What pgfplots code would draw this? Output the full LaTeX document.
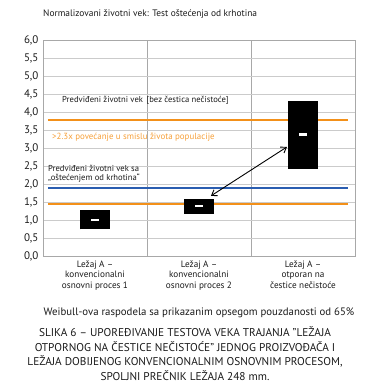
\documentclass[border=0pt]{standalone}
\usepackage{fontspec}
\setmainfont{PT Sans}
\usepackage{pgfplots}
\pgfplotsset{compat=1.18}
\usetikzlibrary{arrows.meta}
\definecolor{myorange}{HTML}{F39019}
\definecolor{txtorange}{HTML}{F6A03A}
\definecolor{myblue}{HTML}{2A5DB0}
\definecolor{gridgray}{HTML}{CBCBCB}
\definecolor{axgray}{HTML}{A8A8A8}
\definecolor{txt}{HTML}{1A1A1A}
\begin{document}
\begin{tikzpicture}
\useasboundingbox (0pt,0pt) rectangle (367pt,388pt);
\begin{axis}[at={(43pt,132pt)}, anchor=south west, scale only axis,
  width=312pt, height=216pt,
  xmin=-0.5, xmax=2.5, ymin=0, ymax=6,
  ytick={0,0.5,1,1.5,2,2.5,3,3.5,4,4.5,5,5.5,6},
  xtick={0,1,2},
  xticklabels={{Ležaj A –\\konvencionalni\\osnovni proces 1},{Ležaj A –\\konvencionalni\\osnovni proces 2},{Ležaj A –\\otporan na\\čestice nečistoće}},
  xticklabel style={align=center, font=\fontsize{9.2}{10.5}\selectfont, text=txt, yshift=-1pt},
  yticklabel style={font=\fontsize{11}{12}\selectfont, text=txt, xshift=-1pt},
  minor xtick={0.5,1.5},
  xminorgrids=true, ymajorgrids=true,
  major tick length=0pt, minor tick length=0pt,
  axis line style={axgray, line width=0.8pt},
  grid style={gridgray, line width=0.8pt},
  minor grid style={axgray, line width=0.8pt},
  clip=false,
  /pgf/number format/.cd, fixed, fixed zerofill, precision=1, use comma, assume math mode=true,
]
% reference lines
\addplot[myorange, line width=1.4pt] coordinates {(-0.452,3.78) (2.433,3.78)};
\addplot[myorange, line width=1.4pt] coordinates {(-0.452,1.44) (2.433,1.44)};
\addplot[myblue, line width=1.4pt] coordinates {(-0.452,1.89) (2.433,1.89)};
% boxes (65% confidence range)
\addplot[black, line width=30pt] coordinates {(0,0.74) (0,1.27)};
\addplot[black, line width=30pt] coordinates {(1,1.18) (1,1.59)};
\addplot[black, line width=30pt] coordinates {(2,2.42) (2,4.30)};
% medians
\addplot[white, line width=2.5pt] coordinates {(-0.038,1.00) (0.038,1.00)};
\addplot[white, line width=2.5pt] coordinates {(0.962,1.39) (1.038,1.39)};
\addplot[white, line width=2.5pt] coordinates {(1.962,3.37) (2.038,3.37)};
% arrow
\addplot[black, line width=0.9pt, {Straight Barb[length=5pt,width=7pt]}-{Straight Barb[length=5pt,width=7pt]}] coordinates {(1.115,1.67) (1.846,3.03)};
% annotations
\node[anchor=west, font=\fontsize{8.6}{9}\selectfont, text=txt, inner sep=0pt] at (axis cs:-0.317,4.33) {Predviđeni životni vek \,[bez čestica nečistoće]};
\node[anchor=west, font=\fontsize{8.9}{9}\selectfont, text=txtorange, inner sep=0pt] at (axis cs:-0.413,3.30) {>2.3x povećanje u smislu života populacije};
\node[anchor=west, font=\fontsize{8.6}{8.5}\selectfont, text=txt, inner sep=0pt, align=left] at (axis cs:-0.452,2.29) {Predviđeni životni vek sa\\„oštećenjem od krhotina“};
\end{axis}
\node[anchor=west, font=\fontsize{9.4}{10}\selectfont, text=txt, inner sep=0pt] at (43pt,374pt) {Normalizovani životni vek: Test oštećenja od krhotina};
\node[anchor=center, font=\fontsize{10.8}{11}\selectfont, text=txt, inner sep=0pt] at (199pt,75pt) {Weibull-ova raspodela sa prikazanim opsegom pouzdanosti od 65\%};
\node[anchor=center, font=\fontsize{11.3}{14.5}\selectfont, text=txt, inner sep=0pt, align=center] at (185pt,34.5pt) {SLIKA 6 – UPOREĐIVANJE TESTOVA VEKA TRAJANJA "LEŽAJA\\OTPORNOG NA ČESTICE NEČISTOĆE" JEDNOG PROIZVOĐAČA I\\LEŽAJA DOBIJENOG KONVENCIONALNIM OSNOVNIM PROCESOM,\\SPOLJNI PREČNIK LEŽAJA 248 mm.};
\end{tikzpicture}
\end{document}
